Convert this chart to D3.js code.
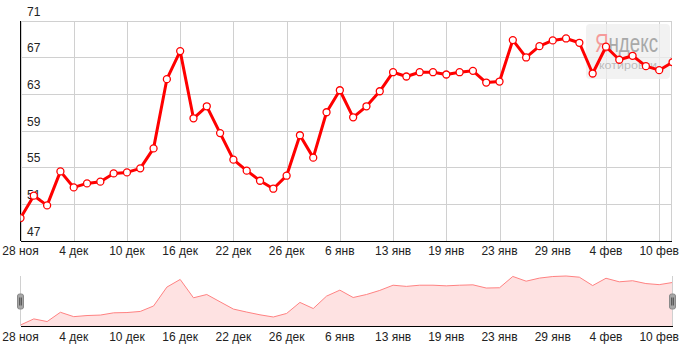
<!DOCTYPE html>
<html>
<head>
<meta charset="utf-8">
<script src="https://cdn.jsdelivr.net/npm/d3@7"></script>
<style>
  body { margin: 0; background: #fff; }
  svg text { font-family: Arial, "Liberation Sans", sans-serif; }
  .tick-label { font-size: 12px; fill: #222; }
  .grid { stroke: #d0d0d0; stroke-width: 1; shape-rendering: crispEdges; }
  .axis-line { stroke: #000; stroke-width: 1; shape-rendering: crispEdges; }
</style>
</head>
<body>
<div id="chart"></div>
<script>
// values per trading day, 28 ноя .. 11 фев
const values = [
  49.45, 51.89, 50.83, 54.54, 52.79, 53.23, 53.42, 54.32, 54.43, 54.87,
  57.05, 64.60, 67.66, 60.33, 61.64, 58.72, 55.82, 54.62, 53.52, 52.65,
  54.07, 58.48, 56.04, 60.99, 63.39, 60.44, 61.64, 63.28, 65.36, 64.89,
  65.36, 65.36, 65.11, 65.36, 65.51, 64.23, 64.34, 68.86, 66.97, 68.20,
  68.83, 69.04, 68.57, 65.22, 68.14, 66.72, 67.15, 66.02, 65.58, 66.45
];

// x axis ticks: index of the point and its label
const tickIndex = [0, 4, 8, 12, 16, 20, 24, 28, 32, 36, 40, 44, 48];
const tickLabels = ['28 ноя', '4 дек', '10 дек', '16 дек', '22 дек', '26 дек',
  '6 янв', '13 янв', '19 янв', '23 янв', '29 янв', '4 фев', '10 фев'];

// y axis ticks
const yTicks = [47, 51, 55, 59, 63, 67, 71];

let width = 684, height = 353,
    plotLeft = 20.5, plotRight = 672.5,
    plotTop = 20.5, plotBottom = 240.5,
    navTop = 275.5, navBottom = 326,
    navLow = 325, navHigh = 276;

let svg = d3.select('#chart')
    .append('svg')
    .attr('width', width)
    .attr('height', height);

// scales
let x = d3.scaleLinear()
        .domain([0, values.length - 1])
        .range([plotLeft, plotRight]),
    y = d3.scaleLinear()
        .domain([47, 71])
        .range([plotBottom, plotTop]),
    yNav = d3.scaleLinear()
        .domain(d3.extent(values))
        .range([navLow, navHigh]);

let defs = svg.append('defs');
defs.append('clipPath')
    .attr('id', 'plot-clip')
    .append('rect')
    .attr('x', plotLeft)
    .attr('y', plotTop - 5)
    .attr('width', 672 - plotLeft)
    .attr('height', plotBottom - plotTop + 5);

// two-tone fill for the logo word: red first letter, grey rest
let logoFill = defs.append('linearGradient')
    .attr('id', 'logo-fill')
    .attr('x1', 0).attr('x2', 1).attr('y1', 0).attr('y2', 0);
logoFill.append('stop').attr('offset', 0.2).attr('stop-color', '#f59a9a');
logoFill.append('stop').attr('offset', 0.2).attr('stop-color', '#a8a8a8');

// horizontal grid
svg.append('g')
    .selectAll('line')
    .data(yTicks)
    .join('line')
    .classed('grid', true)
    .attr('x1', plotLeft)
    .attr('x2', 672)
    .attr('y1', d => Math.round(y(d)) + 0.5)
    .attr('y2', d => Math.round(y(d)) + 0.5);

// vertical grid
svg.append('g')
    .selectAll('line')
    .data(tickIndex.concat([values.length - 1]))
    .join('line')
    .classed('grid', true)
    .attr('x1', d => Math.min(Math.round(x(d)) + 0.5, 671.5))
    .attr('x2', d => Math.min(Math.round(x(d)) + 0.5, 671.5))
    .attr('y1', plotTop)
    .attr('y2', plotBottom);

// y labels, sitting above their grid lines
svg.append('g')
    .selectAll('text')
    .data(yTicks)
    .join('text')
    .classed('tick-label', true)
    .attr('x', 27)
    .attr('y', d => y(d) - 5)
    .text(d => d);

// watermark
let mark = svg.append('g');
mark.append('rect')
    .attr('x', 586)
    .attr('y', 24)
    .attr('width', 84)
    .attr('height', 55)
    .attr('rx', 4)
    .attr('fill', 'rgba(238,238,238,0.75)');
mark.append('text')
    .attr('x', 595)
    .attr('y', 52)
    .attr('font-size', 26)
    .attr('fill', 'url(#logo-fill)')
    .attr('textLength', 63)
    .attr('lengthAdjust', 'spacingAndGlyphs')
    .text('Яндекс');
mark.append('text')
    .attr('x', 599)
    .attr('y', 69)
    .attr('font-size', 11)
    .attr('fill', '#bdbdbd')
    .attr('textLength', 58)
    .attr('lengthAdjust', 'spacingAndGlyphs')
    .text('котировки');

// axis lines
svg.append('line').classed('axis-line', true)
    .attr('x1', plotLeft).attr('x2', plotLeft).attr('y1', plotTop).attr('y2', plotBottom + 0.5);
svg.append('line').classed('axis-line', true)
    .attr('x1', plotLeft).attr('x2', 672).attr('y1', plotBottom + 0.5).attr('y2', plotBottom + 0.5);

// main series
let plot = svg.append('g').attr('clip-path', 'url(#plot-clip)');
plot.append('path')
    .datum(values)
    .attr('fill', 'none')
    .attr('stroke', '#ff0000')
    .attr('stroke-width', 3)
    .attr('stroke-linejoin', 'round')
    .attr('d', d3.line().x((d, i) => x(i)).y(d => y(d)));
plot.selectAll('circle')
    .data(values)
    .join('circle')
    .attr('cx', (d, i) => x(i))
    .attr('cy', d => y(d))
    .attr('r', 3.5)
    .attr('fill', '#fff')
    .attr('stroke', '#ff0000')
    .attr('stroke-width', 1.3);

// x labels (main)
svg.append('g')
    .selectAll('text')
    .data(tickIndex)
    .join('text')
    .classed('tick-label', true)
    .attr('x', d => x(d))
    .attr('y', 255)
    .attr('text-anchor', 'middle')
    .text((d, i) => tickLabels[i]);

// navigator
let nav = svg.append('g');
nav.append('path')
    .datum(values)
    .attr('fill', '#fee2e2')
    .attr('d', d3.area().x((d, i) => x(i)).y0(navBottom).y1(d => yNav(d)));
nav.append('path')
    .datum(values)
    .attr('fill', 'none')
    .attr('stroke', '#ff8282')
    .attr('stroke-width', 1)
    .attr('d', d3.line().x((d, i) => x(i)).y(d => yNav(d)));
nav.selectAll('.edge')
    .data([plotLeft, 672.5])
    .join('line')
    .attr('class', 'edge grid')
    .attr('x1', d => d).attr('x2', d => d)
    .attr('y1', navTop).attr('y2', navBottom);
nav.append('line').classed('axis-line', true)
    .attr('x1', plotLeft).attr('x2', 672.5).attr('y1', navBottom + 0.5).attr('y2', navBottom + 0.5);

// navigator handles
let handles = nav.selectAll('.handle')
    .data([plotLeft, 672.5])
    .join('g')
    .attr('class', 'handle')
    .attr('transform', d => `translate(${d},301.5)`);
handles.append('rect')
    .attr('x', -3).attr('y', -7.5)
    .attr('width', 6).attr('height', 15)
    .attr('rx', 2)
    .attr('fill', '#a6a6a6')
    .attr('stroke', '#8a8a8a');
handles.selectAll('.bar')
    .data([-1, 1])
    .join('line')
    .attr('class', 'bar')
    .attr('x1', d => d * 0.8).attr('x2', d => d * 0.8)
    .attr('y1', -4).attr('y2', 4)
    .attr('stroke', '#333')
    .attr('stroke-width', 0.8);

// x labels (navigator)
nav.append('g')
    .selectAll('text')
    .data(tickIndex)
    .join('text')
    .classed('tick-label', true)
    .attr('x', d => x(d))
    .attr('y', 341)
    .attr('text-anchor', 'middle')
    .text((d, i) => tickLabels[i]);
</script>
</body>
</html>
